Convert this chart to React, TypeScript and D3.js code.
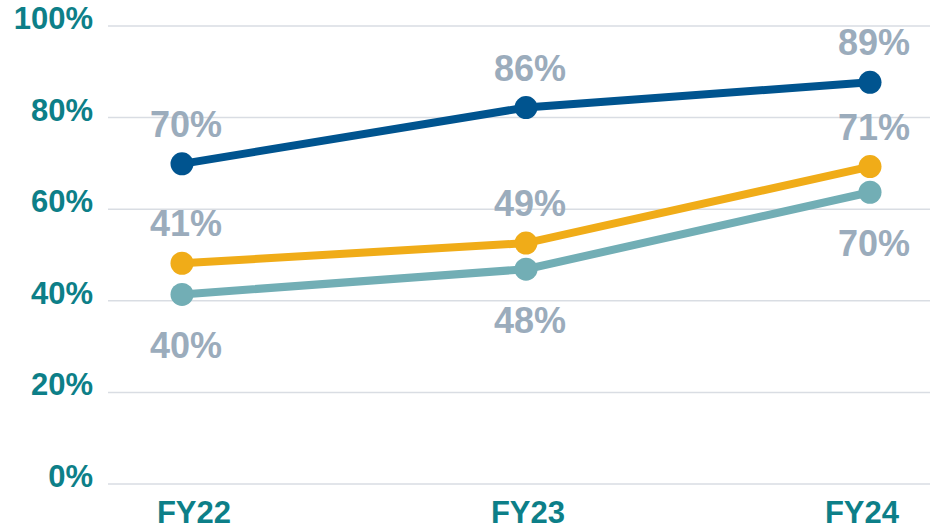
import { useEffect, useRef } from "react";
import * as d3 from "d3";

// chart data
const categories = ["FY22", "FY23", "FY24"];
const yTicks = [0, 0.2, 0.4, 0.6, 0.8, 1];

const blueValues = [0.699, 0.822, 0.877];
const goldValues = [0.482, 0.526, 0.693];
const tealValues = [0.414, 0.469, 0.637];

const blueLabels = ["70%", "86%", "89%"];
const goldLabels = ["41%", "49%", "71%"];
const tealLabels = ["40%", "48%", "70%"];

const FONT = "'Liberation Sans', Arial, sans-serif";

const App = () => {
  const chartRef = useRef<HTMLDivElement>(null);

  useEffect(() => {
    document.body.style.margin = "0"; // drop the default 8px body margin
    d3.select(chartRef.current).select("svg").remove();

    const width = 930;
    const height = 530;

    const svg = d3
      .select(chartRef.current)
      .append("svg")
      .attr("width", width)
      .attr("height", height)
      .style("display", "block")
      .style("background", "#ffffff");

    const xScale = d3.scalePoint<string>().domain(categories).range([182, 870]);
    // category text sits a little off the points in the reference
    const xLabelScale = d3.scalePoint<string>().domain(categories).range([194, 862]);
    const yScale = d3.scaleLinear().domain([0, 1]).range([484, 26]);

    // gridlines
    svg
      .append("g")
      .selectAll("line")
      .data(yTicks)
      .join("line")
      .attr("x1", 108)
      .attr("x2", width)
      .attr("y1", (d) => yScale(d))
      .attr("y2", (d) => yScale(d))
      .attr("stroke", "#d9dde3")
      .attr("stroke-width", 1.5);

    // y tick labels
    svg
      .append("g")
      .selectAll("text")
      .data(yTicks)
      .join("text")
      .attr("x", 93)
      .attr("y", (d) => yScale(d) + 3)
      .attr("text-anchor", "end")
      .attr("font-family", FONT)
      .attr("font-weight", "bold")
      .attr("font-size", "31px")
      .attr("fill", "#0d7f88")
      .text((d) => d3.format(".0%")(d));

    // category labels
    svg
      .append("g")
      .selectAll("text")
      .data(categories)
      .join("text")
      .attr("x", (d) => xLabelScale(d) ?? 0)
      .attr("y", 523)
      .attr("text-anchor", "middle")
      .attr("font-family", FONT)
      .attr("font-weight", "bold")
      .attr("font-size", "31px")
      .attr("fill", "#0d7f88")
      .text((d) => d);

    const series = [
      { values: tealValues, labels: tealLabels, color: "#72aeb5", above: false },
      { values: goldValues, labels: goldLabels, color: "#f0ac18", above: true },
      { values: blueValues, labels: blueLabels, color: "#00548f", above: true },
    ];

    const line = d3
      .line<number>()
      .x((_, i) => xScale(categories[i]) ?? 0)
      .y((d) => yScale(d));

    series.forEach((s) => {
      svg
        .append("path")
        .datum(s.values)
        .attr("fill", "none")
        .attr("stroke", s.color)
        .attr("stroke-width", 8)
        .attr("d", line);

      svg
        .append("g")
        .selectAll("circle")
        .data(s.values)
        .join("circle")
        .attr("cx", (_, i) => xScale(categories[i]) ?? 0)
        .attr("cy", (d) => yScale(d))
        .attr("r", 11.5)
        .attr("fill", s.color);
    });

    // value labels
    series.forEach((s) => {
      svg
        .append("g")
        .selectAll("text")
        .data(s.values)
        .join("text")
        .attr("x", (_, i) => (xScale(categories[i]) ?? 0) + 4)
        .attr("y", (d) => yScale(d) + (s.above ? -27 : 64))
        .attr("text-anchor", "middle")
        .attr("font-family", FONT)
        .attr("font-weight", "bold")
        .attr("font-size", "36px")
        .attr("fill", "#9bacbc")
        .text((_, i) => s.labels[i]);
    });

    return () => {
      d3.select(chartRef.current).select("svg").remove();
    };
  }, []);

  return <div ref={chartRef} style={{ width: 930, height: 530 }}></div>;
};

export default App;
